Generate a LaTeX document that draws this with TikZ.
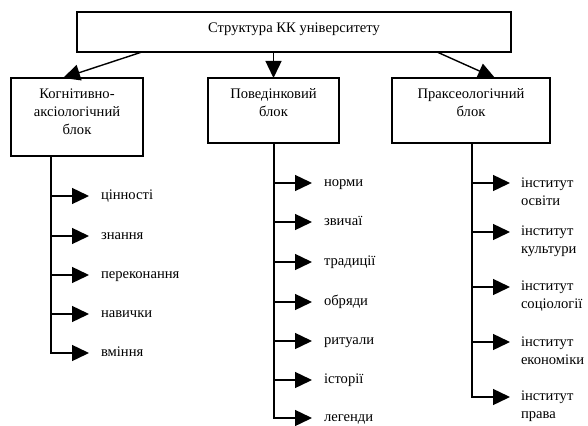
\documentclass[tikz,border=0pt]{standalone}
\usepackage{fontspec}
\setmainfont{Liberation Serif}
\newfontfamily\tnr{Liberation Serif}
\usetikzlibrary{arrows.meta,positioning,calc}

\begin{document}
\begin{tikzpicture}[x=1pt, y=-1pt, >={Triangle[length=17pt,width=16pt,fill=black]},
  font=\tnr\fontsize{14.6pt}{18pt}\selectfont, line width=1.4pt,
  blk/.style={draw, inner sep=0pt, outer sep=0pt},
  blktxt/.style={anchor=north, align=center, inner sep=0pt, yshift=-10pt},
  item/.style={anchor=west, inner sep=0pt, outer xsep=12pt, text height=6.5pt, text depth=0pt},
  item2/.style={anchor=west, inner sep=0pt, outer xsep=11pt, align=left}]
\path[use as bounding box, fill=white] (0,0) rectangle (588,425);

% blocks
\node[blk, minimum width=434pt, minimum height=40pt,
  label={[blktxt]north:Структура КК університету}] (kk) at (294,32) {};
\node[blk, minimum width=132pt, minimum height=78pt,
  label={[blktxt]north:Когнітивно-\\аксіологічний\\блок}] (kog) at (77,117) {};
\node[blk, minimum width=131pt, minimum height=65pt,
  label={[blktxt]north:Поведінковий\\блок}] (pov) at (273.5,110.5) {};
\node[blk, minimum width=158pt, minimum height=65pt,
  label={[blktxt]north:Праксеологічний\\блок}] (prak) at (471,110.5) {};
\draw[->] ([xshift=-152pt]kk.south) -- ([xshift=-14pt]kog.north);
\draw[->] (pov.north |- kk.south) -- (pov.north);
\draw[->] ([xshift=143pt]kk.south) -- ([xshift=24pt]prak.north);

% cognitive-axiological
\coordinate (k1) at (51,196);
\coordinate (k2) at (51,236);
\coordinate (k3) at (51,275);
\coordinate (k4) at (51,314);
\coordinate (k5) at (51,353);
\node[item] (c1) at (89,196) {цінності};
\node[item] (c2) at (89,236) {знання};
\node[item] (c3) at (89,275) {переконання};
\node[item] (c4) at (89,314) {навички};
\node[item] (c5) at (89,353) {вміння};
\draw[->] (kog.south -| k5) -- (k5) -- (k5 -| c5.west);
\draw[->] (k1) -- (k1 -| c1.west);
\draw[->] (k2) -- (k2 -| c2.west);
\draw[->] (k3) -- (k3 -| c3.west);
\draw[->] (k4) -- (k4 -| c4.west);

% behavioural
\coordinate (b1) at (274,183);
\coordinate (b2) at (274,222);
\coordinate (b3) at (274,262);
\coordinate (b4) at (274,302);
\coordinate (b5) at (274,341);
\coordinate (b6) at (274,380);
\coordinate (b7) at (274,418);
\node[item] (n1) at (312,183) {норми};
\node[item] (n2) at (312,222) {звичаї};
\node[item] (n3) at (312,262) {традиції};
\node[item] (n4) at (312,302) {обряди};
\node[item] (n5) at (312,341) {ритуали};
\node[item] (n6) at (312,380) {історії};
\node[item] (n7) at (312,418) {легенди};
\draw[->] (pov.south -| b7) -- (b7) -- (b7 -| n7.west);
\draw[->] (b1) -- (b1 -| n1.west);
\draw[->] (b2) -- (b2 -| n2.west);
\draw[->] (b3) -- (b3 -| n3.west);
\draw[->] (b4) -- (b4 -| n4.west);
\draw[->] (b5) -- (b5 -| n5.west);
\draw[->] (b6) -- (b6 -| n6.west);

% praxeological
\coordinate (p1) at (472,183);
\coordinate (p2) at (472,232);
\coordinate (p3) at (472,287);
\coordinate (p4) at (472,342);
\coordinate (p5) at (472,397);
\node[item2] (i1) at (510,192) {інститут\\освіти};
\node[item2] (i2) at (510,241) {інститут\\культури};
\node[item2] (i3) at (510,296) {інститут\\соціології};
\node[item2] (i4) at (510,351) {інститут\\економіки};
\node[item2] (i5) at (510,406) {інститут\\права};
\draw[->] (prak.south -| p5) -- (p5) -- (p5 -| i5.west);
\draw[->] (p1) -- (p1 -| i1.west);
\draw[->] (p2) -- (p2 -| i2.west);
\draw[->] (p3) -- (p3 -| i3.west);
\draw[->] (p4) -- (p4 -| i4.west);
\end{tikzpicture}
\end{document}
